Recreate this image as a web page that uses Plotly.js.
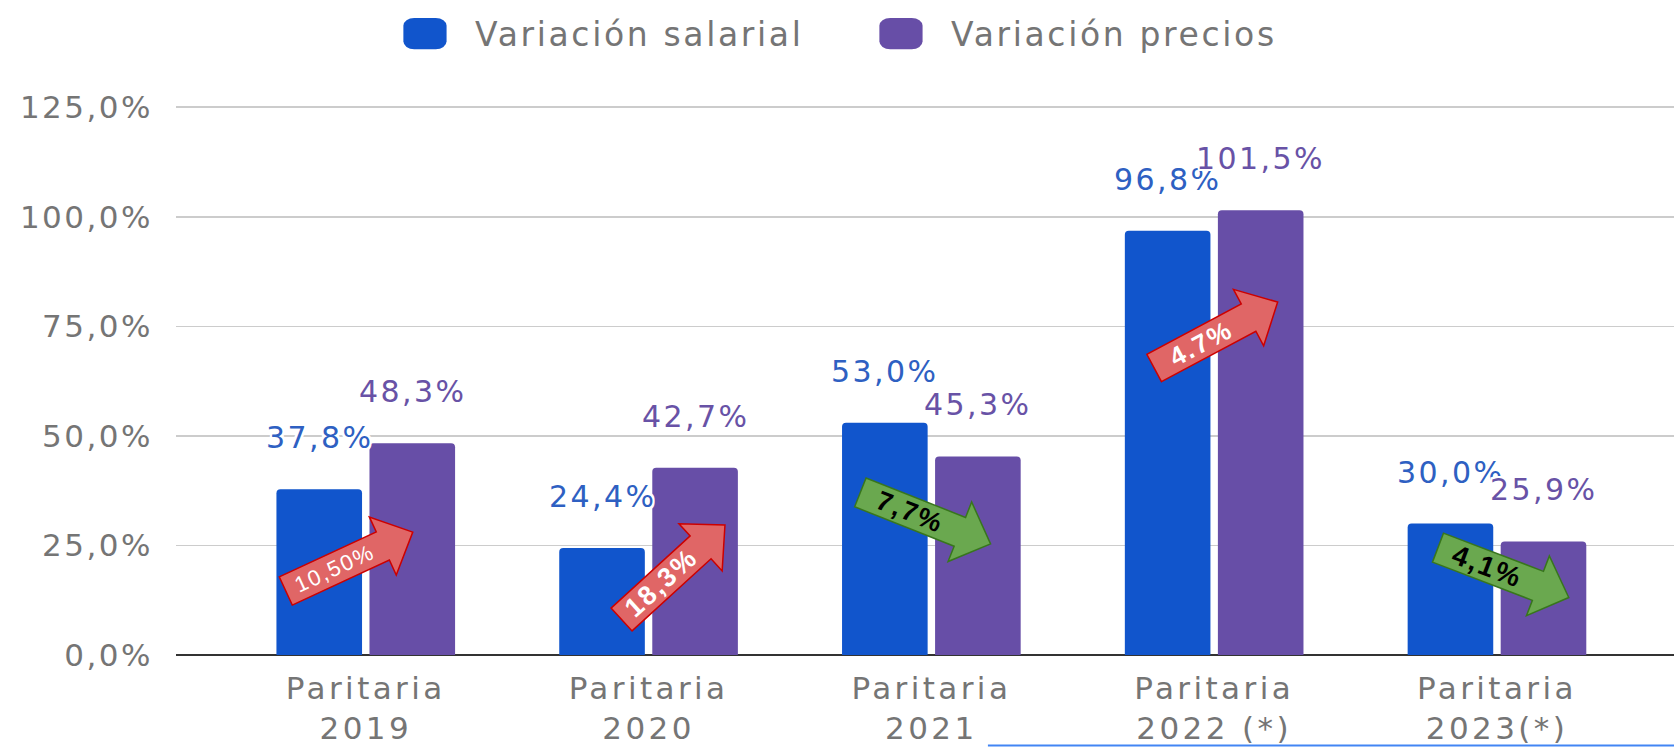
<!DOCTYPE html>
<html>
<head>
<meta charset="utf-8">
<script src="https://cdn.plot.ly/plotly-3.0.1.min.js"></script>
<style>
html, body { margin: 0; padding: 0; background: #ffffff; }
#chart { width: 1674px; height: 747px; }
text { letter-spacing: 0.08em; }
.xtick text { letter-spacing: 0.11em; }
</style>
</head>
<body>
<div id="chart"></div>
<script>
// ---- data ----
const categories = ['Paritaria 2019', 'Paritaria 2020', 'Paritaria 2021', 'Paritaria 2022 (*)', 'Paritaria 2023(*)'];
const seriesNames = ['Variación salarial', 'Variación precios'];
const salarial = [37.8, 24.4, 53.0, 96.8, 30.0];
const precios = [48.3, 42.7, 45.3, 101.5, 25.9];
const diffLabels = ['10,50%', '18,3%', '7,7%', '4.7%', '4,1%'];
const yTicks = [0, 25, 50, 75, 100, 125];

// ---- styling / layout constants ----
const colors = ['#1155cc', '#674ea7'];
const labelColors = ['#2e60c2', '#6852a6'];
const gray = '#757575';
const FONT = 'DejaVu Sans, sans-serif';
const barOffset = 46.5;         // px from category centre to each bar centre

// arrow placement (pixel geometry relative to category centre, tail height in axis units)
const arrowGeom = [
  { dx: -80, y: 14.6, angle: -24.9, weight: 400, size: 22 },
  { dx: -27, y: 8.1,  angle: -42.4, weight: 700, size: 27 },
  { dx: -71, y: 37.1, angle: 21.6,  weight: 700, size: 27 },
  { dx: -60, y: 65.5, angle: -28.1, weight: 700, size: 26 },
  { dx: -59, y: 24.5, angle: 20.9,  weight: 700, size: 28 }
];
const arrowLen = 140, headLen = 33, shaftHalf = 15.5, headHalf = 32;

function fmt(v) { return v.toFixed(1).replace('.', ',') + '%'; }

function tickText(c) {
  const i = c.indexOf(' ');
  return c.slice(0, i) + '<br>' + c.slice(i + 1);
}

function arrowPath(a) {
  const t = a.angle * Math.PI / 180;
  const ux = Math.cos(t), uy = Math.sin(t);
  const nx = -uy, ny = ux;
  const Ls = arrowLen - headLen;
  const pts = [
    [nx * shaftHalf, ny * shaftHalf],
    [ux * Ls + nx * shaftHalf, uy * Ls + ny * shaftHalf],
    [ux * Ls + nx * headHalf, uy * Ls + ny * headHalf],
    [ux * arrowLen, uy * arrowLen],
    [ux * Ls - nx * headHalf, uy * Ls - ny * headHalf],
    [ux * Ls - nx * shaftHalf, uy * Ls - ny * shaftHalf],
    [-nx * shaftHalf, -ny * shaftHalf]
  ].map(p => [p[0] + a.dx, -p[1]]);
  return 'M' + pts.map(p => p[0].toFixed(1) + ',' + p[1].toFixed(1)).join(' L') + ' Z';
}

const halo = '2px 0 0 #fff, -2px 0 0 #fff, 0 2px 0 #fff, 0 -2px 0 #fff, 2px 2px 0 #fff, -2px -2px 0 #fff, 2px -2px 0 #fff, -2px 2px 0 #fff';

const traces = [salarial, precios].map((vals, k) => ({
  type: 'bar',
  name: seriesNames[k],
  x: categories,
  y: vals,
  marker: { color: colors[k], line: { width: 0 }, cornerradius: 4 },
  hoverinfo: 'skip'
}));

const annotations = [];
const shapes = [];

categories.forEach((c, i) => {
  [salarial, precios].forEach((vals, k) => {
    annotations.push({
      x: c, y: vals[i], xref: 'x', yref: 'y',
      text: fmt(vals[i]),
      showarrow: false,
      xanchor: 'center', yanchor: 'bottom',
      xshift: (k === 0 ? -barOffset : barOffset),
      yshift: 32,
      font: { family: FONT, size: 30, color: labelColors[k], shadow: halo }
    });
  });
});

categories.forEach((c, i) => {
  const a = arrowGeom[i];
  const up = precios[i] > salarial[i];
  shapes.push({
    type: 'path', xref: 'x', yref: 'y',
    xsizemode: 'pixel', ysizemode: 'pixel',
    xanchor: i, yanchor: a.y,
    path: arrowPath(a),
    fillcolor: up ? '#e06666' : '#6aa84f',
    line: { color: up ? '#cc0000' : '#38761d', width: 1.5 },
    layer: 'above'
  });
  const t = a.angle * Math.PI / 180;
  const mid = (arrowLen - headLen) / 2;
  annotations.push({
    x: i, y: a.y, xref: 'x', yref: 'y',
    text: diffLabels[i],
    showarrow: false,
    xanchor: 'center', yanchor: 'middle',
    xshift: a.dx + Math.cos(t) * mid,
    yshift: -Math.sin(t) * mid,
    textangle: a.angle,
    font: { family: 'Liberation Sans, Arial, sans-serif', size: a.size, weight: a.weight, color: up ? '#ffffff' : '#000000' }
  });
});

// thin blue underline seen at the bottom of the picture
shapes.push({
  type: 'line', xref: 'paper', yref: 'paper',
  x0: 0.542, x1: 1, y0: -0.1645, y1: -0.1645,
  line: { color: '#4285f4', width: 2 }
});

const layout = {
  width: 1674, height: 747, autosize: false,
  margin: { l: 176, r: 0, t: 105, b: 92, pad: 0 },
  paper_bgcolor: '#ffffff', plot_bgcolor: '#ffffff',
  barmode: 'group', bargap: 0.342, bargroupgap: 0.08,
  font: { family: FONT, color: gray },
  showlegend: true,
  legend: {
    orientation: 'h', xref: 'container', yref: 'container',
    x: 0.224, xanchor: 'left', y: 0.955, yanchor: 'middle',
    itemwidth: 90, entrywidth: 371, entrywidthmode: 'pixels',
    itemclick: false, itemdoubleclick: false,
    font: { family: FONT, size: 33, color: gray },
    bgcolor: 'rgba(0,0,0,0)'
  },
  xaxis: {
    type: 'category',
    range: [-0.671, 4.626],
    tickvals: categories,
    ticktext: categories.map(tickText),
    tickfont: { family: FONT, size: 31, color: gray },
    ticks: '', showgrid: false, showline: false, zeroline: false,
    ticklabelstandoff: 12,
    fixedrange: true
  },
  yaxis: {
    range: [0, 125.5],
    tickvals: yTicks,
    ticktext: yTicks.map(fmt),
    tickfont: { family: FONT, size: 31, color: gray },
    ticks: '', showline: false,
    showgrid: true, gridcolor: '#cccccc', gridwidth: 1.5,
    zeroline: true, zerolinecolor: '#333333', zerolinewidth: 2,
    ticklabelstandoff: 22,
    fixedrange: true
  },
  annotations: annotations,
  shapes: shapes
};

Plotly.newPlot('chart', traces, layout, { displayModeBar: false, staticPlot: true }).then(() => {
  // enlarge the legend swatches to the wide rectangles of the reference
  document.querySelectorAll('.legendpoints path').forEach(p => {
    const tr = p.getAttribute('transform') || '';
    p.setAttribute('transform', tr + ' scale(3.6,2.6)');
  });
});
</script>
</body>
</html>
